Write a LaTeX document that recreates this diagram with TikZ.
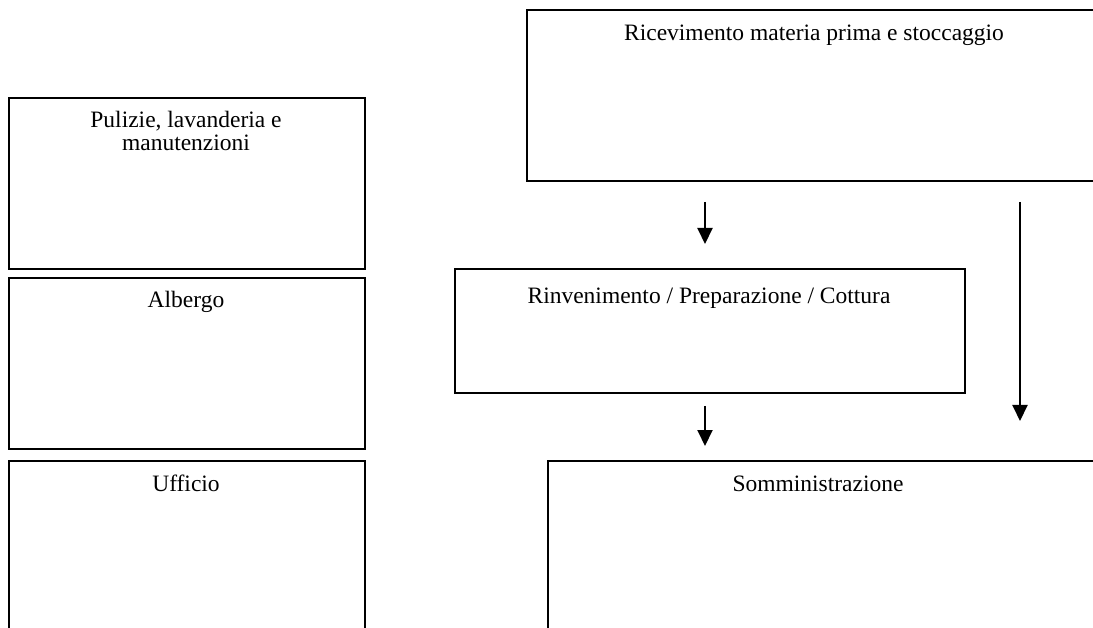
\documentclass[tikz,border=0pt]{standalone}
\usepackage{fontspec}
\setmainfont{Liberation Serif}
\usetikzlibrary{arrows.meta,calc}
\begin{document}
\begin{tikzpicture}[x=1pt,y=-1pt,
  box/.style={draw,line width=2pt,rectangle,inner sep=0pt,anchor=north west},
  lbl/.style={font=\fontsize{23.5}{23}\selectfont,align=center,anchor=base,inner sep=0pt},
  arr/.style={line width=2pt,-{Triangle[length=16pt,width=15pt]}}]
\useasboundingbox (0,0) rectangle (1093,628);
\clip (0,0) rectangle (1093,628);
% boxes
\node[box,minimum width=576,minimum height=171] (ric) at (526,9) {};
\node[box,minimum width=356,minimum height=171] (pul) at (8,97) {};
\node[box,minimum width=356,minimum height=171] (alb) at (8,277) {};
\node[box,minimum width=356,minimum height=200] (uff) at (8,460) {};
\node[box,minimum width=510,minimum height=124] (rin) at (454,268) {};
\node[box,minimum width=560,minimum height=200] (som) at (547,460) {};
% labels
\node[lbl] (tric) at (814,41) {Ricevimento materia prima e stoccaggio};
\node[lbl] (tpul) at (186,128) {Pulizie, lavanderia e};
\node[lbl] (tpul2) at (186,151) {manutenzioni};
\node[lbl] (talb) at (186,308) {Albergo};
\node[lbl] (tuff) at (186,491) {Ufficio};
\node[lbl] (trin) at (709,304) {Rinvenimento / Preparazione / Cottura};
\node[lbl] (tsom) at (818,491) {Somministrazione};
% arrows
\draw[arr,shorten <=20pt,shorten >=24pt] ([xshift=-5pt]rin.north |- ric.south) -- ([xshift=-5pt]rin.north);
\draw[arr,shorten <=20pt,shorten >=39pt] (ric.south -| 1020,0) -- (som.north -| 1020,0);
\draw[arr,shorten <=12pt,shorten >=14pt] ([xshift=-5pt]rin.south) -- ([xshift=-5pt]rin.south |- som.north);
\end{tikzpicture}
\end{document}
